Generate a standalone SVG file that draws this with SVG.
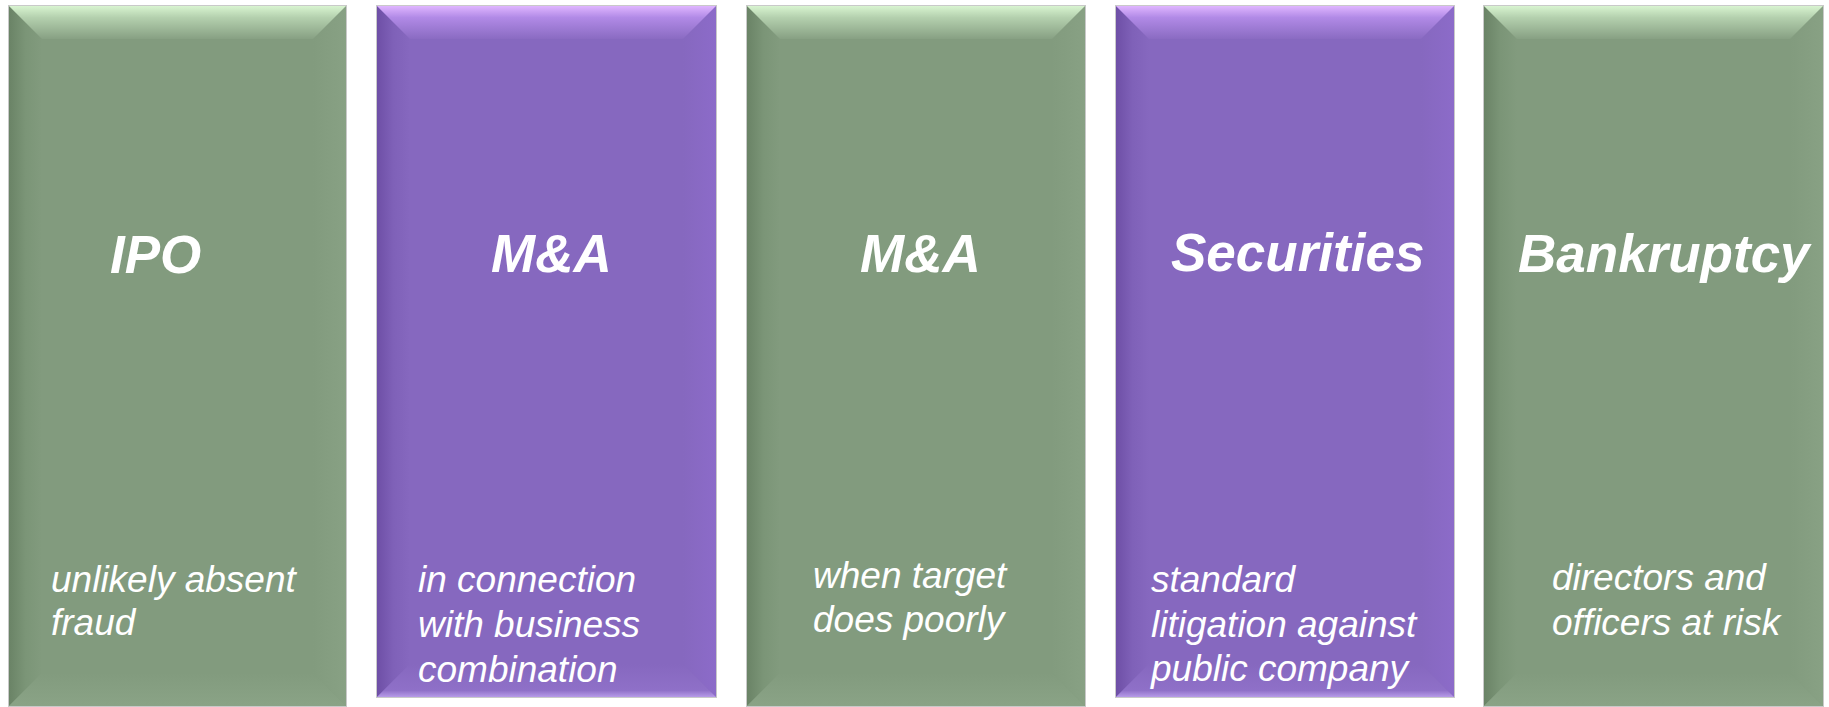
<svg xmlns="http://www.w3.org/2000/svg" width="1829" height="707" viewBox="0 0 1829 707">
<defs>
<linearGradient id="gTop" x1="0" y1="0" x2="0" y2="1"><stop offset="0" stop-color="#d8f4d0"/><stop offset="0.35" stop-color="#b4d0ae"/><stop offset="1" stop-color="#87a083"/></linearGradient>
<linearGradient id="gLeft" x1="0" y1="0" x2="1" y2="0"><stop offset="0" stop-color="#6a8366"/><stop offset="0.5" stop-color="#7b9577"/><stop offset="1" stop-color="#829b7e"/></linearGradient>
<linearGradient id="gRight" x1="0" y1="0" x2="1" y2="0"><stop offset="0" stop-color="#829b7e"/><stop offset="1" stop-color="#88a184"/></linearGradient>
<linearGradient id="gBot" x1="0" y1="0" x2="0" y2="1"><stop offset="0" stop-color="#829b7e"/><stop offset="1" stop-color="#8aa386"/></linearGradient>
<linearGradient id="pTop" x1="0" y1="0" x2="0" y2="1"><stop offset="0" stop-color="#dfb5ff"/><stop offset="0.35" stop-color="#b18ae6"/><stop offset="1" stop-color="#8a6bc2"/></linearGradient>
<linearGradient id="pLeft" x1="0" y1="0" x2="1" y2="0"><stop offset="0" stop-color="#6e4fa6"/><stop offset="0.5" stop-color="#7f61b8"/><stop offset="1" stop-color="#8668bf"/></linearGradient>
<linearGradient id="pRight" x1="0" y1="0" x2="1" y2="0"><stop offset="0" stop-color="#8668bf"/><stop offset="1" stop-color="#8c6bc9"/></linearGradient>
<linearGradient id="pBot" x1="0" y1="0" x2="0" y2="1"><stop offset="0" stop-color="#8668bf"/><stop offset="0.8" stop-color="#8f70c8"/><stop offset="1" stop-color="#b79be8"/></linearGradient>
</defs>
<style>
.frame{fill:none;stroke:#c9c9c9;stroke-width:1}
.gbase{fill:#829b7e}
.pbase{fill:#8668bf}
.title{font-family:"Liberation Sans",Arial,sans-serif;font-size:53px;font-weight:bold;font-style:italic;fill:#ffffff}
.body{font-family:"Liberation Sans",Arial,sans-serif;font-size:37px;font-style:italic;fill:#ffffff}
</style>
<rect width="1829" height="707" fill="#ffffff"/>

<g id="node-ipo">
<rect class="gbase" x="9" y="6" width="337" height="700"/>
<polygon fill="url(#gLeft)" points="9,6 42,39 42,673 9,706"/>
<polygon fill="url(#gRight)" points="346,6 313,39 313,673 346,706"/>
<polygon fill="url(#gBot)" points="9,706 42,673 313,673 346,706"/>
<polygon fill="url(#gTop)" points="9,6 346,6 313,39 42,39"/>
<rect class="frame" x="8.5" y="5.5" width="338" height="701"/>
<text class="title" x="110" y="273">IPO</text>
<text class="body" x="51" y="592">unlikely absent</text>
<text class="body" x="51" y="635">fraud</text>
</g>

<g id="node-ma1">
<rect class="pbase" x="377" y="6" width="339" height="691"/>
<polygon fill="url(#pLeft)" points="377,6 410,39 410,664 377,697"/>
<polygon fill="url(#pRight)" points="716,6 683,39 683,664 716,697"/>
<polygon fill="url(#pBot)" points="377,697 410,664 683,664 716,697"/>
<polygon fill="url(#pTop)" points="377,6 716,6 683,39 410,39"/>
<rect class="frame" x="376.5" y="5.5" width="340" height="692"/>
<text class="title" x="491" y="272">M&amp;A</text>
<text class="body" x="418" y="592">in connection</text>
<text class="body" x="418" y="637">with business</text>
<text class="body" x="418" y="682">combination</text>
</g>

<g id="node-ma2">
<rect class="gbase" x="747" y="6" width="338" height="700"/>
<polygon fill="url(#gLeft)" points="747,6 780,39 780,673 747,706"/>
<polygon fill="url(#gRight)" points="1085,6 1052,39 1052,673 1085,706"/>
<polygon fill="url(#gBot)" points="747,706 780,673 1052,673 1085,706"/>
<polygon fill="url(#gTop)" points="747,6 1085,6 1052,39 780,39"/>
<rect class="frame" x="746.5" y="5.5" width="339" height="701"/>
<text class="title" x="860" y="272">M&amp;A</text>
<text class="body" x="813" y="588">when target</text>
<text class="body" x="813" y="632">does poorly</text>
</g>

<g id="node-securities">
<rect class="pbase" x="1116" y="6" width="338" height="691"/>
<polygon fill="url(#pLeft)" points="1116,6 1149,39 1149,664 1116,697"/>
<polygon fill="url(#pRight)" points="1454,6 1421,39 1421,664 1454,697"/>
<polygon fill="url(#pBot)" points="1116,697 1149,664 1421,664 1454,697"/>
<polygon fill="url(#pTop)" points="1116,6 1454,6 1421,39 1149,39"/>
<rect class="frame" x="1115.5" y="5.5" width="339" height="692"/>
<text class="title" x="1171" y="271">Securities</text>
<text class="body" x="1151" y="592">standard</text>
<text class="body" x="1151" y="637">litigation against</text>
<text class="body" x="1151" y="681">public company</text>
</g>

<g id="node-bankruptcy">
<rect class="gbase" x="1484" y="6" width="339" height="700"/>
<polygon fill="url(#gLeft)" points="1484,6 1517,39 1517,673 1484,706"/>
<polygon fill="url(#gRight)" points="1823,6 1790,39 1790,673 1823,706"/>
<polygon fill="url(#gBot)" points="1484,706 1517,673 1790,673 1823,706"/>
<polygon fill="url(#gTop)" points="1484,6 1823,6 1790,39 1517,39"/>
<rect class="frame" x="1483.5" y="5.5" width="340" height="701"/>
<text class="title" x="1518" y="272">Bankruptcy</text>
<text class="body" x="1552" y="590">directors and</text>
<text class="body" x="1552" y="635">officers at risk</text>
</g>

<g id="connectors"></g>
</svg>
